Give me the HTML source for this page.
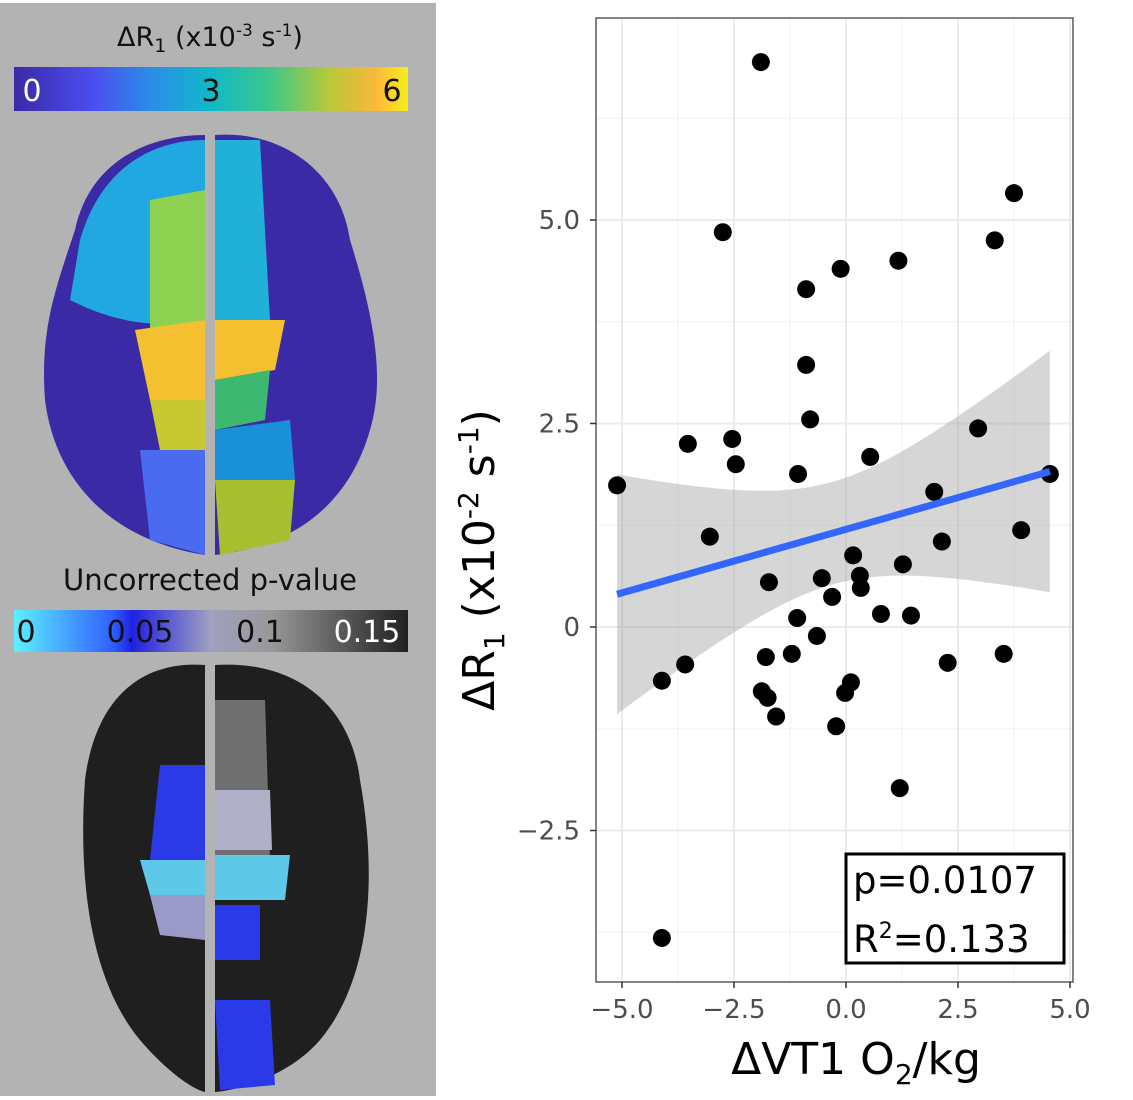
<!DOCTYPE html>
<html><head><meta charset="utf-8"><style>
body{margin:0;background:#fff;width:1133px;height:1096px;overflow:hidden;font-family:"DejaVu Sans","Liberation Sans",sans-serif}
svg text{font-family:"DejaVu Sans","Liberation Sans",sans-serif}
</style></head><body>
<svg width="1133" height="1096" xmlns="http://www.w3.org/2000/svg">
<defs>
<linearGradient id="vir" x1="0" x2="1"><stop offset="0" stop-color="#3a2aa6"/><stop offset="0.2" stop-color="#4a4ef0"/><stop offset="0.35" stop-color="#2a8ee8"/><stop offset="0.5" stop-color="#12b8c8"/><stop offset="0.65" stop-color="#3cc88a"/><stop offset="0.8" stop-color="#b8c83a"/><stop offset="0.92" stop-color="#fbb83a"/><stop offset="1" stop-color="#f5ef1a"/></linearGradient>
<linearGradient id="pv" x1="0" x2="1"><stop offset="0" stop-color="#5ef0ff"/><stop offset="0.25" stop-color="#3060ff"/><stop offset="0.3" stop-color="#2020e0"/><stop offset="0.5" stop-color="#a0a0c0"/><stop offset="0.65" stop-color="#999"/><stop offset="1" stop-color="#202020"/></linearGradient>
</defs>
<rect x="0" y="3" width="436" height="1093" fill="#b3b3b3"/>
<text x="210" y="46" font-size="27" text-anchor="middle" fill="#111">ΔR<tspan font-size="19" dy="6">1</tspan><tspan dy="-6"> (x10</tspan><tspan font-size="17" dy="-10">-3</tspan><tspan dy="10"> s</tspan><tspan font-size="17" dy="-10">-1</tspan><tspan dy="10">)</tspan></text>
<rect x="14" y="67" width="394" height="44" fill="url(#vir)"/>
<text x="32" y="101" font-size="30" text-anchor="middle" fill="#fff">0</text>
<text x="211" y="101" font-size="30" text-anchor="middle" fill="#111">3</text>
<text x="392" y="101" font-size="30" text-anchor="middle" fill="#111">6</text>
<g>
<path d="M205,135 C150,135 90,160 75,230 C55,290 40,330 45,400 C55,480 110,540 205,555 Z" fill="#3a2aa6"/>
<path d="M215,135 C280,130 340,170 350,240 C375,320 385,380 370,430 C350,500 300,545 215,555 Z" fill="#3a2aa6"/>
<path d="M205,140 C150,140 100,170 80,240 L70,300 C110,320 150,330 205,320 Z" fill="#22a8e0"/>
<path d="M150,200 L205,190 L205,320 L150,330 Z" fill="#8ed050"/>
<path d="M135,330 L205,320 L205,400 L150,400 Z" fill="#f5c030"/>
<path d="M150,400 L205,400 L205,450 L160,450 Z" fill="#c8c830"/>
<path d="M140,450 L205,450 L205,555 L150,540 Z" fill="#4a6af0"/>
<path d="M215,140 L260,140 L270,320 L215,320 Z" fill="#20b0d8"/>
<path d="M215,320 L285,320 L275,370 L215,380 Z" fill="#f5c030"/>
<path d="M215,380 L270,370 L265,420 L215,430 Z" fill="#3cb870"/>
<path d="M215,430 L290,420 L295,480 L215,480 Z" fill="#1a90d8"/>
<path d="M215,480 L295,480 L290,540 L220,555 Z" fill="#a8c030"/>
</g>
<text x="210" y="590" font-size="29" text-anchor="middle" fill="#111">Uncorrected p-value</text>
<rect x="14" y="610" width="394" height="42" fill="url(#pv)"/>
<text x="26" y="642" font-size="30" text-anchor="middle" fill="#111">0</text>
<text x="140" y="642" font-size="30" text-anchor="middle" fill="#111">0.05</text>
<text x="260" y="642" font-size="30" text-anchor="middle" fill="#111">0.1</text>
<text x="367" y="642" font-size="30" text-anchor="middle" fill="#fff">0.15</text>
<g>
<path d="M205,665 C140,660 95,700 85,780 C78,880 90,980 140,1040 C170,1075 195,1090 205,1092 Z" fill="#1f1f1f"/>
<path d="M215,665 C290,660 350,700 360,780 C378,880 370,980 320,1040 C290,1075 240,1090 215,1092 Z" fill="#1f1f1f"/>
<path d="M160,765 L205,765 L205,860 L150,860 Z" fill="#2a3ae8"/>
<path d="M140,860 L205,860 L205,895 L150,895 Z" fill="#5ec8e8"/>
<path d="M150,895 L205,895 L205,940 L160,935 Z" fill="#9a9ac8"/>
<path d="M215,700 L265,700 L270,860 L215,860 Z" fill="#707070"/>
<path d="M215,790 L270,790 L272,850 L215,850 Z" fill="#b0b0c8"/>
<path d="M215,855 L290,855 L285,900 L215,900 Z" fill="#5ec8e8"/>
<path d="M215,905 L260,905 L260,960 L215,960 Z" fill="#2a3ae8"/>
<path d="M215,1000 L270,1000 L275,1085 L220,1090 Z" fill="#2a3ae8"/>
</g>
<g id="chart"></g>
</svg>
<script>
const xs=[-1.90,3.75,-2.75,3.32,-0.12,1.17,-0.89,-0.89,-0.80,-3.53,-2.54,-2.46,-1.07,0.54,2.95,4.55,-5.11,1.97,-3.04,3.91,2.14,0.16,-1.72,-0.54,0.31,0.33,-0.31,1.27,-1.09,0.78,1.45,-0.65,-1.21,-1.79,-3.59,-4.11,2.27,3.52,0.11,-1.88,-1.75,-0.02,-1.56,-0.22,1.20,-4.11];
const ys=[6.94,5.33,4.85,4.75,4.40,4.50,4.15,3.22,2.55,2.25,2.31,2.00,1.88,2.09,2.44,1.88,1.74,1.66,1.11,1.19,1.05,0.88,0.55,0.60,0.63,0.48,0.37,0.77,0.11,0.16,0.14,-0.11,-0.33,-0.37,-0.46,-0.66,-0.44,-0.33,-0.68,-0.79,-0.87,-0.81,-1.10,-1.22,-1.98,-3.82];
const xTicks=[-5,-2.5,0,2.5,5];
const xTickLabels=["\u22125.0","\u22122.5","0.0","2.5","5.0"];
const yTicks=[-2.5,0,2.5,5];
const yTickLabels=["\u22122.5","0","2.5","5.0"];
const NS="http://www.w3.org/2000/svg";
const L=596,R=1073,T=18,B=982;
const sx=v=>846+v*44.8, sy=v=>627-v*81.4;
const g=document.getElementById('chart');
function mk(t,a,p){const e=document.createElementNS(NS,t);for(const k in a)e.setAttribute(k,a[k]);(p||g).appendChild(e);return e;}
const bg=mk('rect',{x:L,y:T,width:R-L,height:B-T,fill:'#fff'});


for(let i=0;i<xTicks.length-1;i++){const m=(xTicks[i]+xTicks[i+1])/2;mk('line',{x1:sx(m),x2:sx(m),y1:T,y2:B,stroke:'#f2f2f2','stroke-width':1});}
for(let i=0;i<yTicks.length-1;i++){const m=(yTicks[i]+yTicks[i+1])/2;mk('line',{y1:sy(m),y2:sy(m),x1:L,x2:R,stroke:'#f2f2f2','stroke-width':1});}
[-3.75,6.25].forEach(m=>mk('line',{y1:sy(m),y2:sy(m),x1:L,x2:R,stroke:'#f2f2f2','stroke-width':1}));
xTicks.forEach((v,i)=>{mk('line',{x1:sx(v),x2:sx(v),y1:T,y2:B,stroke:'#ebebeb','stroke-width':2});
const t=mk('text',{x:sx(v),y:1018,'font-size':26,fill:'#4d4d4d','text-anchor':'middle'});t.textContent=xTickLabels[i];


mk('line',{x1:sx(v),x2:sx(v),y1:B,y2:B+6,stroke:'#333','stroke-width':1.5});});
yTicks.forEach((v,i)=>{mk('line',{y1:sy(v),y2:sy(v),x1:L,x2:R,stroke:'#ebebeb','stroke-width':2});
const t=mk('text',{x:580,y:sy(v)+9,'font-size':26,fill:'#4d4d4d','text-anchor':'end'});t.textContent=yTickLabels[i];


mk('line',{y1:sy(v),y2:sy(v),x1:L-6,x2:L,stroke:'#333','stroke-width':1.5});});
const n=xs.length,mx=xs.reduce((a,b)=>a+b)/n,my=ys.reduce((a,b)=>a+b)/n;
let sxx=0,sxy=0;for(let i=0;i<n;i++){sxx+=(xs[i]-mx)**2;sxy+=(xs[i]-mx)*(ys[i]-my);}
const b1=sxy/sxx,b0=my-b1*mx;let sse=0;for(let i=0;i<n;i++)sse+=(ys[i]-b0-b1*xs[i])**2;
const s=Math.sqrt(sse/(n-2)),tq=2.015;
const x0=Math.min(...xs),x1=Math.max(...xs);let up=[],lo=[];
for(let k=0;k<=80;k++){const x=x0+(x1-x0)*k/80,yh=b0+b1*x,se=s*Math.sqrt(1/n+(x-mx)**2/sxx);up.push(sx(x)+','+sy(yh+tq*se));lo.unshift(sx(x)+','+sy(yh-tq*se));}
const band=mk('polygon',{points:up.concat(lo).join(' '),fill:'#999','fill-opacity':0.4});


xs.forEach((x,i)=>{const c=mk('circle',{cx:sx(x),cy:sy(ys[i]),r:9,fill:'#000'});

});
const ln=mk('line',{x1:sx(x0),y1:sy(b0+b1*x0),x2:sx(x1),y2:sy(b0+b1*x1),stroke:'#3366ff','stroke-width':7});


const fr=mk('rect',{x:L,y:T,width:R-L,height:B-T,fill:'none',stroke:'#333','stroke-width':1.2});


const box=mk('rect',{x:846,y:854,width:218,height:109,fill:'#fff',stroke:'#000','stroke-width':3});


const t1=mk('text',{x:853,y:893,'font-size':37,fill:'#000'});t1.textContent='p=0.0107';


const t2=mk('text',{x:853,y:952,'font-size':37,fill:'#000'});t2.innerHTML='R<tspan font-size="22" dy="-14">2</tspan><tspan dy="14">=0.133</tspan>';


const xt=mk('text',{x:856,y:1074,'font-size':44,fill:'#000','text-anchor':'middle'});xt.innerHTML='ΔVT1 O<tspan font-size="28" dy="10">2</tspan><tspan dy="-10">/kg</tspan>';


const yt=mk('text',{x:0,y:0,'font-size':44,fill:'#000','text-anchor':'middle',transform:'translate(494,560) rotate(-90)'});
yt.innerHTML='ΔR<tspan font-size="28" dy="10">1</tspan><tspan dy="-10"> (x10</tspan><tspan font-size="28" dy="-16">-2</tspan><tspan dy="16"> s</tspan><tspan font-size="28" dy="-16">-1</tspan><tspan dy="16">)</tspan>';


</script>
</body></html>
